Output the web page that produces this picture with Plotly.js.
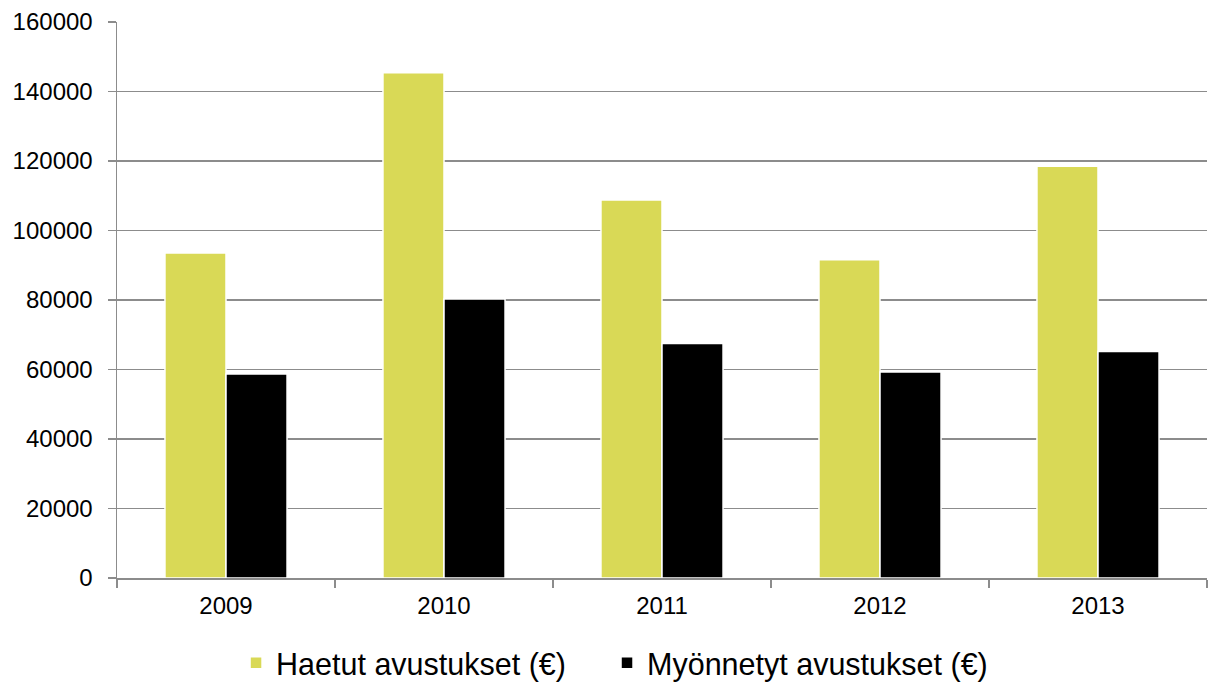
<!DOCTYPE html>
<html>
<head>
<meta charset="utf-8">
<script src="https://cdn.plot.ly/plotly-3.0.1.min.js"></script>
<style>
html,body{margin:0;padding:0;background:#fff;}
#chart{width:1208px;height:682px;}
</style>
</head>
<body>
<div id="chart"></div>
<script>
const years = ['2009', '2010', '2011', '2012', '2013'];
const haetut = [93500, 145400, 108800, 91600, 118500];
const myonnetyt = [58700, 80300, 67500, 59300, 65200];
const seriesNames = ['Haetut avustukset (€)', 'Myönnetyt avustukset (€)'];
const yTicks = [0, 20000, 40000, 60000, 80000, 100000, 120000, 140000, 160000];

const FONT = 'Liberation Sans, Arial, sans-serif';

const traces = [
  {
    type: 'bar', name: seriesNames[0], x: years, y: haetut, legend: 'legend',
    marker: {color: '#d9d956', line: {color: '#ffffff', width: 1.5}},
    hoverinfo: 'x+y'
  },
  {
    type: 'bar', name: seriesNames[1], x: years, y: myonnetyt, legend: 'legend2',
    marker: {color: '#000000', line: {color: '#ffffff', width: 1.5}},
    hoverinfo: 'x+y'
  }
];

const legendCommon = {
  orientation: 'h', xanchor: 'left', xref: 'container',
  y: 0.028, yanchor: 'middle', yref: 'container',
  font: {family: FONT, size: 30.5, color: '#000000'},
  itemwidth: 30, bgcolor: 'rgba(0,0,0,0)'
};

const layout = {
  width: 1208, height: 682,
  margin: {l: 117, r: 1, t: 22, b: 104, autoexpand: false},
  paper_bgcolor: '#ffffff', plot_bgcolor: '#ffffff',
  font: {family: FONT, color: '#000000', size: 24},
  barmode: 'group',
  bargap: 0.44,
  bargroupgap: 0,
  showlegend: true,
  legend: Object.assign({}, legendCommon, {x: 0.1954}),
  legend2: Object.assign({}, legendCommon, {x: 0.5025}),
  xaxis: {
    type: 'category',
    tickson: 'boundaries',
    ticks: 'outside', ticklen: 8, tickwidth: 1.5, tickcolor: '#8c8c8c',
    showline: true, linecolor: '#8c8c8c', linewidth: 1.5,
    showgrid: false, zeroline: false,
    tickfont: {family: FONT, size: 24, color: '#000000'},
    ticklabelstandoff: 6,
    fixedrange: true
  },
  yaxis: {
    range: [0, 160000],
    tickvals: yTicks,
    ticktext: yTicks.map(String),
    ticks: 'outside', ticklen: 8, tickwidth: 1.5, tickcolor: '#8c8c8c',
    showline: true, linecolor: '#8c8c8c', linewidth: 1.5,
    showgrid: true, gridcolor: '#8c8c8c', gridwidth: 1.5,
    zeroline: false,
    tickfont: {family: FONT, size: 24, color: '#000000'},
    ticklabelstandoff: 10,
    fixedrange: true
  }
};

Plotly.newPlot('chart', traces, layout, {displayModeBar: false, staticPlot: true});
</script>
</body>
</html>
